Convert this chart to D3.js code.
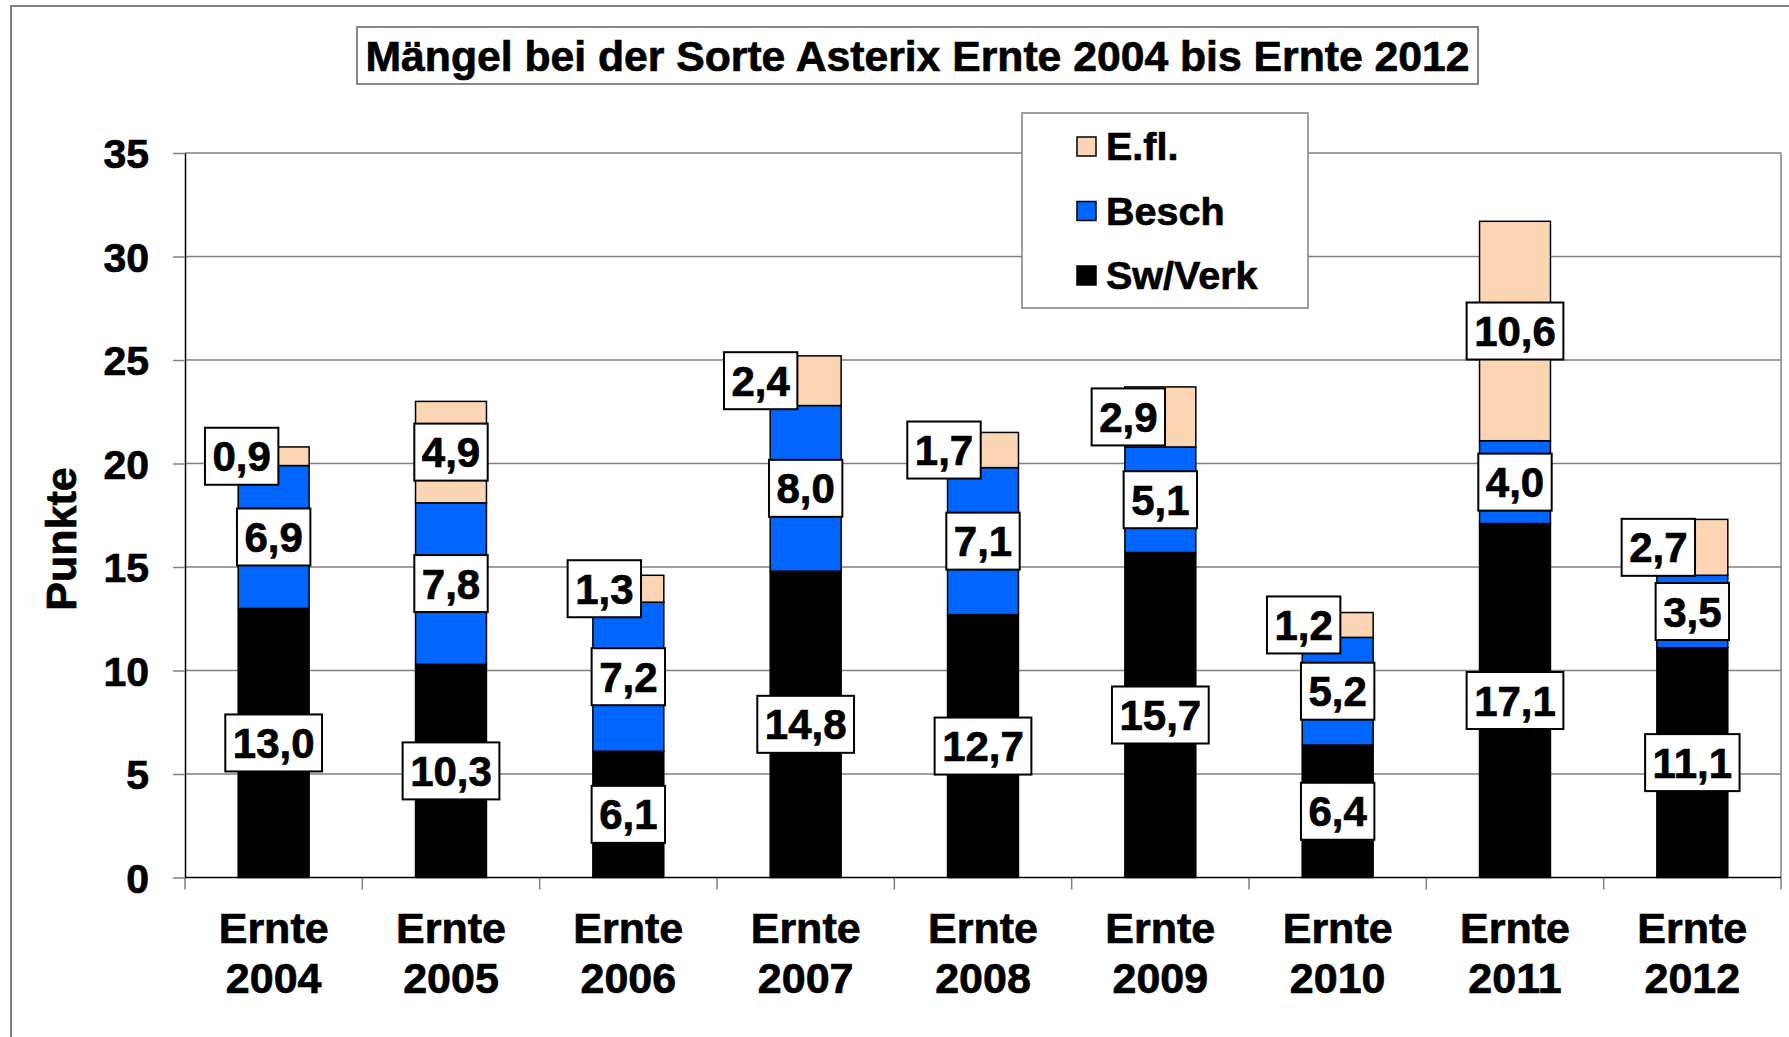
<!DOCTYPE html>
<html>
<head>
<meta charset="utf-8">
<script src="https://cdn.jsdelivr.net/npm/d3@7"></script>
<style>
  html, body { margin: 0; padding: 0; background: #fff; }
  svg { display: block; font-family: "Liberation Sans", Arial, sans-serif; font-weight: bold; }
  svg text { stroke: #000; stroke-width: 0.7px; }
</style>
</head>
<body>
<svg id="chart" width="1789" height="1037"></svg>
<script>
const categories = ["Ernte 2004","Ernte 2005","Ernte 2006","Ernte 2007","Ernte 2008","Ernte 2009","Ernte 2010","Ernte 2011","Ernte 2012"];
const swVerk = [13.0, 10.3, 6.1, 14.8, 12.7, 15.7, 6.4, 17.1, 11.1];
const besch  = [6.9, 7.8, 7.2, 8.0, 7.1, 5.1, 5.2, 4.0, 3.5];
const efl    = [0.9, 4.9, 1.3, 2.4, 1.7, 2.9, 1.2, 10.6, 2.7];
const seriesNames = ["Sw/Verk", "Besch", "E.fl."];
const yTicks = [0, 5, 10, 15, 20, 25, 30, 35];
const titleText = "Mängel bei der Sorte Asterix Ernte 2004 bis Ernte 2012";
const yAxisTitle = "Punkte";

// layout: horizontal shift of the E.fl. labels (pixels)
const eflLabelShift = [-32, 0, -24, -45, -39, -32, -34, 0, -34];

const colors = { "Sw/Verk": "#000000", "Besch": "#0066FF", "E.fl.": "#FCD5B4" };

const svg = d3.select("#chart");
const W = 1789, H = 1037;
const plot = { left: 185, right: 1781, top: 153, bottom: 877.5 };

// outer border
svg.append("rect").attr("x", 11).attr("y", 6).attr("width", W + 50).attr("height", H + 50)
  .attr("fill", "#fff").attr("stroke", "#808080").attr("stroke-width", 2);

const x = d3.scaleBand().domain(categories).range([plot.left, plot.right]).paddingInner(0.6).paddingOuter(0.3);
const y = d3.scaleLinear().domain([0, 35]).range([plot.bottom, plot.top]);

// gridlines
svg.append("g").selectAll("line").data(yTicks.filter(d => d > 0)).join("line")
  .attr("x1", plot.left).attr("x2", plot.right)
  .attr("y1", d => y(d)).attr("y2", d => y(d))
  .attr("stroke", "#808080").attr("stroke-width", 1.5);

// right border of plot area
svg.append("line").attr("x1", plot.right).attr("x2", plot.right).attr("y1", plot.top).attr("y2", plot.bottom)
  .attr("stroke", "#808080").attr("stroke-width", 1.5);

// y axis
const yAxis = svg.append("g").attr("transform", `translate(${plot.left},0)`)
  .call(d3.axisLeft(y).tickValues(yTicks).tickSize(12).tickSizeOuter(0).tickPadding(24));
yAxis.select(".domain").attr("stroke", "#000").attr("stroke-width", 1.5);
yAxis.selectAll(".tick line").attr("stroke", "#808080").attr("stroke-width", 1.5);
yAxis.selectAll(".tick text").attr("font-size", 41).attr("font-weight", "bold").attr("fill", "#000")
  .attr("font-family", "'Liberation Sans', Arial, sans-serif").attr("dy", "0.36em");

// x axis
const boundaries = categories.map(c => x(c) - x.step() * x.paddingInner() / 2).concat([plot.right]);
svg.append("g").selectAll("line").data(boundaries).join("line")
  .attr("x1", d => d).attr("x2", d => d).attr("y1", plot.bottom).attr("y2", plot.bottom + 12)
  .attr("stroke", "#808080").attr("stroke-width", 1.5);
svg.append("line").attr("x1", plot.left).attr("x2", plot.right).attr("y1", plot.bottom).attr("y2", plot.bottom)
  .attr("stroke", "#000").attr("stroke-width", 1.5);

const xl = svg.append("g").selectAll("text").data(categories).join("text")
  .attr("text-anchor", "middle").attr("font-size", 43).attr("fill", "#000")
  .attr("x", d => x(d) + x.bandwidth() / 2).attr("y", 943);
xl.each(function(d) {
  const parts = d.split(" ");
  const t = d3.select(this);
  t.append("tspan").attr("x", x(d) + x.bandwidth() / 2).attr("dy", 0).text(parts[0]);
  t.append("tspan").attr("x", x(d) + x.bandwidth() / 2).attr("dy", 50).text(parts[1]);
});

// y axis title
svg.append("text").attr("transform", "translate(61,539) rotate(-90)")
  .attr("text-anchor", "middle").attr("dy", "0.36em").attr("font-size", 43).attr("fill", "#000")
  .text(yAxisTitle);

// stacked data
const rows = categories.map((c, i) => ({ cat: c, "Sw/Verk": swVerk[i], "Besch": besch[i], "E.fl.": efl[i], i }));
const stacked = d3.stack().keys(seriesNames)(rows);

const barsG = svg.append("g");
stacked.forEach(s => {
  barsG.append("g").selectAll("rect").data(s).join("rect")
    .attr("x", d => x(d.data.cat)).attr("width", x.bandwidth())
    .attr("y", d => y(d[1])).attr("height", d => y(d[0]) - y(d[1]))
    .attr("fill", colors[s.key]).attr("stroke", "#000").attr("stroke-width", 1.5);
});

// data labels
const fmt = v => d3.format(".1f")(v).replace(".", ",");
const labG = svg.append("g");
stacked.forEach(s => {
  s.forEach(d => {
    const i = d.data.i;
    const shift = s.key === "E.fl." ? eflLabelShift[i] : 0;
    const cx = x(d.data.cat) + x.bandwidth() / 2 + shift;
    const cy = y((d[0] + d[1]) / 2);
    const g = labG.append("g");
    const r = g.append("rect").attr("fill", "#fff").attr("stroke", "#000").attr("stroke-width", 2);
    const t = g.append("text").attr("x", cx).attr("y", cy).attr("dy", "0.36em")
      .attr("text-anchor", "middle").attr("font-size", 42).attr("fill", "#000")
      .text(fmt(d.data[s.key]));
    const w = t.node().getComputedTextLength() + 15;
    const h = 57;
    r.attr("x", cx - w / 2).attr("y", cy - h / 2).attr("width", w).attr("height", h);
  });
});

// legend
const leg = svg.append("g");
leg.append("rect").attr("x", 1022).attr("y", 113).attr("width", 286).attr("height", 195)
  .attr("fill", "#fff").attr("stroke", "#808080").attr("stroke-width", 1.5);
const legendOrder = ["E.fl.", "Besch", "Sw/Verk"];
const legendY = d3.scalePoint().domain(legendOrder).range([146, 275]);
legendOrder.forEach(k => {
  leg.append("rect").attr("x", 1077).attr("y", legendY(k) - 9).attr("width", 19).attr("height", 19)
    .attr("fill", colors[k]).attr("stroke", "#000").attr("stroke-width", 1.5);
  leg.append("text").attr("x", 1106).attr("y", legendY(k)).attr("dy", "0.36em")
    .attr("font-size", 39.5).attr("fill", "#000").text(k);
});

// title
svg.append("rect").attr("x", 357).attr("y", 27).attr("width", 1121).attr("height", 57)
  .attr("fill", "#fff").attr("stroke", "#606060").attr("stroke-width", 1.5);
svg.append("text").attr("x", 917.5).attr("y", 56).attr("dy", "0.36em").attr("text-anchor", "middle")
  .attr("font-size", 42.7).attr("fill", "#000").text(titleText);
</script>
</body>
</html>
